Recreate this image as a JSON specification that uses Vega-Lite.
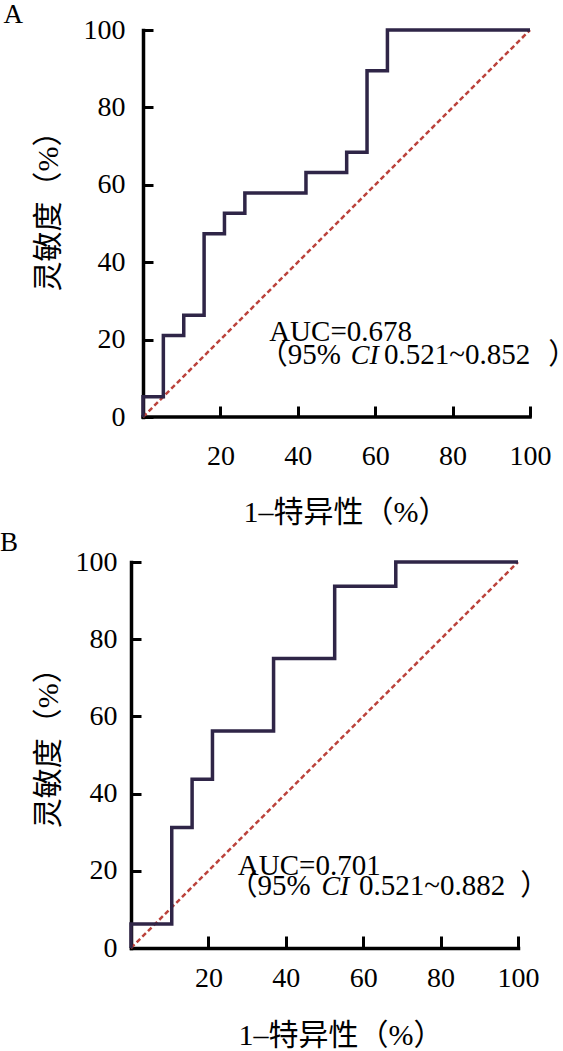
{
  "$schema": "https://vega.github.io/schema/vega-lite/v6.json",
  "padding": {"left": 0, "top": 0, "right": 0, "bottom": 0},
  "background": "white",
  "spacing": 2,
  "config": {
    "view": {"stroke": null},
    "font": "Liberation Serif, Noto Sans CJK SC",
    "axis": {
      "domainColor": "black", "domainWidth": 3.5, "domainCap": "square",
      "tickColor": "black", "tickWidth": 3, "grid": false,
      "labelFont": "Liberation Serif", "labelFontSize": 28, "labelColor": "black",
      "labelFlush": false, "labelOverlap": false,
      "titleFont": "Liberation Serif, Noto Sans CJK SC", "titleFontSize": 30,
      "titleFontWeight": "normal", "titleColor": "black"
    },
    "title": {"font": "Liberation Serif", "fontSize": 27, "fontWeight": "normal", "color": "black", "anchor": "start", "frame": "bounds"}
  },
  "datasets": {
    "rocA": [
      {"x": 0, "y": 0, "o": 1}, {"x": 0, "y": 5.26, "o": 2}, {"x": 5.26, "y": 5.26, "o": 3},
      {"x": 5.26, "y": 21.05, "o": 4}, {"x": 10.53, "y": 21.05, "o": 5}, {"x": 10.53, "y": 26.32, "o": 6},
      {"x": 15.79, "y": 26.32, "o": 7}, {"x": 15.79, "y": 47.37, "o": 8}, {"x": 21.05, "y": 47.37, "o": 9},
      {"x": 21.05, "y": 52.63, "o": 10}, {"x": 26.32, "y": 52.63, "o": 11}, {"x": 26.32, "y": 57.89, "o": 12},
      {"x": 42.11, "y": 57.89, "o": 13}, {"x": 42.11, "y": 63.16, "o": 14}, {"x": 52.63, "y": 63.16, "o": 15},
      {"x": 52.63, "y": 68.42, "o": 16}, {"x": 57.89, "y": 68.42, "o": 17}, {"x": 57.89, "y": 89.47, "o": 18},
      {"x": 63.16, "y": 89.47, "o": 19}, {"x": 63.16, "y": 100, "o": 20}, {"x": 100, "y": 100, "o": 21}
    ],
    "rocB": [
      {"x": 0, "y": 0, "o": 1}, {"x": 0, "y": 6.25, "o": 2}, {"x": 10.53, "y": 6.25, "o": 3},
      {"x": 10.53, "y": 31.25, "o": 4}, {"x": 15.79, "y": 31.25, "o": 5}, {"x": 15.79, "y": 43.75, "o": 6},
      {"x": 21.05, "y": 43.75, "o": 7}, {"x": 21.05, "y": 56.25, "o": 8}, {"x": 36.84, "y": 56.25, "o": 9},
      {"x": 36.84, "y": 75, "o": 10}, {"x": 52.63, "y": 75, "o": 11}, {"x": 52.63, "y": 93.75, "o": 12},
      {"x": 68.42, "y": 93.75, "o": 13}, {"x": 68.42, "y": 100, "o": 14}, {"x": 100, "y": 100, "o": 15}
    ],
    "one": [{}]
  },
  "vconcat": [
    {
      "width": 399, "height": 387,
      "title": {"text": "A", "dx": -30, "offset": -12.5},
      "layer": [
        {
          "data": {"name": "one"},
          "mark": {"type": "rule", "color": "black", "strokeWidth": 3.5, "strokeCap": "square"},
          "encoding": {"x": {"datum": 0, "type": "quantitative"}, "y": {"datum": 0, "type": "quantitative"}, "x2": {"datum": 100}}
        },
        {
          "data": {"name": "one"},
          "mark": {"type": "rule", "color": "#bb423b", "strokeDash": [5, 3], "strokeWidth": 2.5},
          "encoding": {"x": {"datum": 0, "type": "quantitative"}, "y": {"datum": 0, "type": "quantitative"}, "x2": {"datum": 100}, "y2": {"datum": 100}}
        },
        {
          "data": {"name": "rocA"},
          "mark": {"type": "line", "color": "#2f2547", "strokeWidth": 3.5},
          "encoding": {
            "x": {"field": "x", "type": "quantitative", "scale": {"domain": [-3.1, 100], "nice": false, "zero": false},
              "axis": {"values": [20, 40, 60, 80, 100], "domain": false, "title": "1–特异性（%）", "tickSize": -11, "labelPadding": 36, "titlePadding": 27, "titleX": 214.6}},
            "y": {"field": "y", "type": "quantitative", "scale": {"domain": [0, 100], "nice": false},
              "axis": {"values": [0, 20, 40, 60, 80, 100], "offset": -12, "title": "灵敏度（%）", "tickSize": -10, "labelPadding": 28, "titlePadding": 19.5, "titleY": 173.5}},
            "order": {"field": "o"}
          }
        },
        {"data": {"name": "one"}, "mark": {"type": "text", "align": "left", "baseline": "alphabetic", "fontSize": 29, "font": "Liberation Serif"},
         "encoding": {"x": {"datum": 32.6}, "y": {"datum": 19.66}, "text": {"value": "AUC=0.678"}}},
        {"data": {"name": "one"}, "mark": {"type": "text", "align": "left", "baseline": "alphabetic", "fontSize": 29, "font": "Liberation Serif, Noto Sans CJK SC"},
         "encoding": {"x": {"datum": 29.9}, "y": {"datum": 13.6}, "text": {"value": "（95%"}}},
        {"data": {"name": "one"}, "mark": {"type": "text", "align": "left", "baseline": "alphabetic", "fontSize": 28, "font": "Liberation Serif", "fontStyle": "italic"},
         "encoding": {"x": {"datum": 53.7}, "y": {"datum": 13.6}, "text": {"value": "CI"}}},
        {"data": {"name": "one"}, "mark": {"type": "text", "align": "left", "baseline": "alphabetic", "fontSize": 29, "font": "Liberation Serif"},
         "encoding": {"x": {"datum": 62.3}, "y": {"datum": 13.6}, "text": {"value": "0.521~0.852"}}},
        {"data": {"name": "one"}, "mark": {"type": "text", "align": "left", "baseline": "alphabetic", "fontSize": 29, "font": "Noto Sans CJK SC"},
         "encoding": {"x": {"datum": 104.7}, "y": {"datum": 13.6}, "text": {"value": "）"}}}
      ]
    },
    {
      "width": 387, "height": 386,
      "title": {"text": "B", "dx": -33, "offset": -9},
      "layer": [
        {
          "data": {"name": "one"},
          "mark": {"type": "rule", "color": "#bb423b", "strokeDash": [5, 3], "strokeWidth": 2.5},
          "encoding": {"x": {"datum": 0, "type": "quantitative"}, "y": {"datum": 0, "type": "quantitative"}, "x2": {"datum": 100}, "y2": {"datum": 100}}
        },
        {
          "data": {"name": "rocB"},
          "mark": {"type": "line", "color": "#2f2547", "strokeWidth": 3.5},
          "encoding": {
            "x": {"field": "x", "type": "quantitative", "scale": {"domain": [0, 100], "nice": false},
              "axis": {"values": [20, 40, 60, 80, 100], "title": "1–特异性（%）", "tickSize": -12, "labelPadding": 28, "titlePadding": 28, "titleX": 209.5}},
            "y": {"field": "y", "type": "quantitative", "scale": {"domain": [0, 100], "nice": false},
              "axis": {"values": [0, 20, 40, 60, 80, 100], "title": "灵敏度（%）", "tickSize": -10, "labelPadding": 24, "titlePadding": 12, "titleY": 178.3}},
            "order": {"field": "o"}
          }
        },
        {"data": {"name": "one"}, "mark": {"type": "text", "align": "left", "baseline": "alphabetic", "fontSize": 29, "font": "Liberation Serif"},
         "encoding": {"x": {"datum": 27.6}, "y": {"datum": 18.83}, "text": {"value": "AUC=0.701"}}},
        {"data": {"name": "one"}, "mark": {"type": "text", "align": "left", "baseline": "alphabetic", "fontSize": 29, "font": "Liberation Serif, Noto Sans CJK SC"},
         "encoding": {"x": {"datum": 25.2}, "y": {"datum": 13.65}, "text": {"value": "（95%"}}},
        {"data": {"name": "one"}, "mark": {"type": "text", "align": "left", "baseline": "alphabetic", "fontSize": 28, "font": "Liberation Serif", "fontStyle": "italic"},
         "encoding": {"x": {"datum": 49.2}, "y": {"datum": 13.65}, "text": {"value": "CI"}}},
        {"data": {"name": "one"}, "mark": {"type": "text", "align": "left", "baseline": "alphabetic", "fontSize": 29, "font": "Liberation Serif"},
         "encoding": {"x": {"datum": 58.9}, "y": {"datum": 13.65}, "text": {"value": "0.521~0.882"}}},
        {"data": {"name": "one"}, "mark": {"type": "text", "align": "left", "baseline": "alphabetic", "fontSize": 29, "font": "Noto Sans CJK SC"},
         "encoding": {"x": {"datum": 100.6}, "y": {"datum": 13.65}, "text": {"value": "）"}}}
      ]
    }
  ]
}
